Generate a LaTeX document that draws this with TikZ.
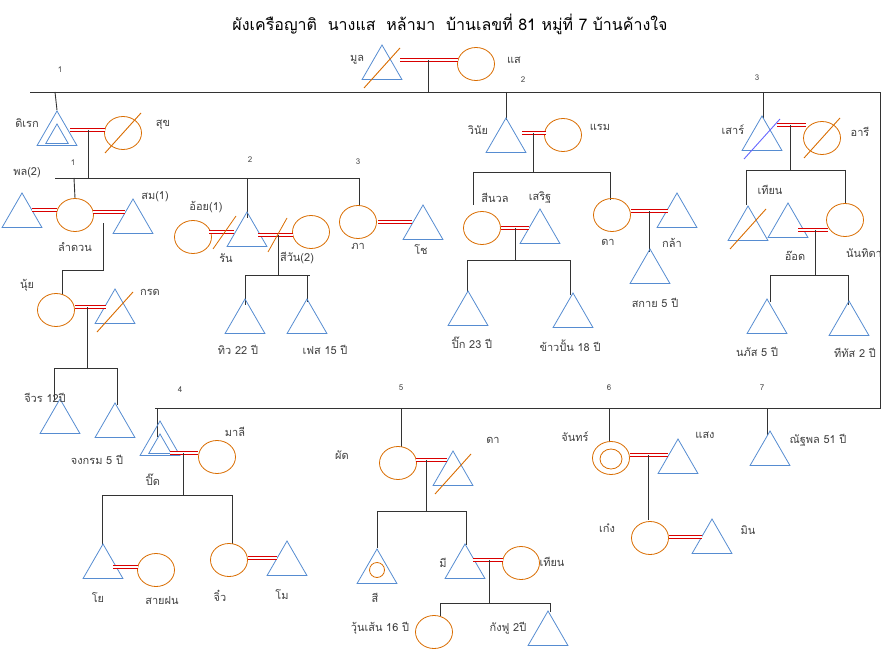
\documentclass[tikz,border=0pt]{standalone}
\usepackage{fontspec}
\setmainfont{Loma}[Script=Thai]
\usetikzlibrary{shapes.geometric,calc}
\tikzset{
 tri/.style={regular polygon,regular polygon sides=3,draw=cyan!50!blue!70,minimum size=46pt,inner sep=0pt,line width=0.8pt},
 itri/.style={regular polygon,regular polygon sides=3,draw=cyan!50!blue!70,minimum size=26pt,inner sep=0pt,line width=0.8pt},
 cir/.style={ellipse,draw=orange!85!black,minimum width=37pt,minimum height=33pt,inner sep=0pt,line width=0.8pt},
 icir/.style={ellipse,draw=orange!85!black,minimum width=22pt,minimum height=20pt,inner sep=0pt,line width=0.8pt},
 scir/.style={circle,draw=orange!85!black,minimum size=15pt,inner sep=0pt,line width=0.8pt},
 lab/.style={font=\fontsize{11pt}{12pt}\selectfont,text=black!75},
 num/.style={font=\fontsize{8pt}{9pt}\selectfont,text=black!70},
 ln/.style={black!80,line width=0.9pt},
 marr/.style={red!85!black,double=white,double distance=1.6pt,line width=1.4pt},
}
\newcommand\Tri[2]{\node[tri] (#1) at (#2) {};}
\newcommand\Cir[2]{\node[cir] (#1) at (#2) {};}
\newcommand\Lab[2]{\node[lab] at (#1) {#2};}
\newcommand\Num[2]{\node[num] at (#1) {#2};}
\newcommand\Sl[2]{\draw[#2,line width=0.9pt] ($(#1.center)+(-18,20)$) -- ($(#1.center)+(18,-20)$);}
\begin{document}
\begin{tikzpicture}[x=1pt,y=-1pt]
\useasboundingbox (0,0) rectangle (896,663);
\node[font=\fontsize{16pt}{18pt}\selectfont] (title) at (450,24) {ผังเครือญาติ\ \ นางแส\ \ หล้ามา\ \ บ้านเลขที่ 81 หมู่ที่ 7 บ้านค้างใจ};
% top couple
\Tri{mul}{382,68}\Sl{mul}{orange!85!black}\Lab{357,60}{มูล}
\Cir{sae}{476,64}\Lab{514,60}{แส}
\draw[marr] (400,60)--(458,60);
\draw[ln] (428,60)--(428,92);
\draw[ln] (30,92)--(880,92)--(880,408)--(155,408);
\Num{60,70}{1}\Num{523,80}{2}\Num{757,78}{3}\Num{180,390}{4}\Num{401,388}{5}\Num{609,388}{6}\Num{762,388}{7}
% ดิเรก
\Tri{direk}{57,134}\node[itri] at (57,137) {};\Lab{27,123}{ดิเรก}
\Cir{suk}{123,133}\Sl{suk}{orange!85!black}\Lab{163,125}{สุข}
\draw[ln] (55,92)--(direk.north);
\draw[marr] (70,130)--(105,130);
\draw[ln] (88,130)--(88,178);
\draw[ln] (55,178)--(360,178);
\Num{73,163}{1}\Lab{27,173}{พล(2)}\Num{250,160}{2}\Num{358,162}{3}
\Cir{lamduan}{75,215}\Lab{75,247}{ลำดวน}
\draw[ln] (74,178)--(lamduan.north);
\Tri{phon}{22,216}\draw[marr] (32,210)--(57,210);
\Tri{som}{133,222}\Lab{155,197}{สม(1)}
\draw[marr] (93,212)--(125,212);
\draw[ln] (103,223)--(103,270)--(62,270)--(62,295);
\Cir{nui}{56,310}\Lab{27,285}{นุ้ย}
\Tri{krot}{115,312}\Sl{krot}{orange!85!black}\Lab{150,292}{กรด}
\draw[marr] (75,307)--(106,307);
\draw[ln] (87,307)--(87,368);
\draw[ln] (54,368)--(117,368);
\draw[ln] (54,368)--(54,400);\draw[ln] (117,368)--(117,405);
\Tri{jiwon}{60,422}\Tri{jongkrom}{115,426}
\Lab{45,398}{จีวร 12ปี}\Lab{97,460}{จงกรม 5 ปี}
% รัน
\draw[ln] (247,178)--(247,218);
\Tri{run}{247,235}\Lab{226,258}{รัน}
\Cir{oi}{193,237}\Lab{206,207}{อ้อย(1)}
\draw[marr] (209,232)--(234,232);
\draw[orange!85!black,line width=0.8pt] (213,249)--(236,216);
\Cir{siwan}{311,232}\Lab{297,258}{สีวัน(2)}
\draw[marr] (258,235)--(293,235);
\draw[orange!85!black,line width=0.8pt] (268,252)--(287,218);
\draw[ln] (278,235)--(278,275);
\draw[ln] (245,275)--(310,275);
\draw[ln] (245,275)--(245,305);\draw[ln] (307,275)--(307,302);
\Tri{thiw}{245,322}\Tri{fet}{307,322}
\Lab{238,350}{ทิว 22 ปี}\Lab{325,350}{เฟส 15 ปี}
% ภา
\draw[ln] (359,178)--(359,206);
\Cir{pha}{358,222}\Lab{358,246}{ภา}
\Tri{cho}{423,228}\Lab{421,250}{โช}
\draw[marr] (378,222)--(412,222);
% วินัย
\draw[ln] (506,92)--(506,120);
\Tri{winai}{506,141}\Lab{478,130}{วินัย}
\Cir{raem}{563,135}\Lab{600,127}{แรม}
\draw[marr] (522,133)--(546,133);
\draw[ln] (533,133)--(533,172);
\draw[ln] (473,172)--(610,172);
\draw[ln] (473,172)--(473,205);
\Cir{sinuan}{482,228}\Lab{495,198}{สีนวล}\Lab{540,198}{เสริฐ}
\Tri{soet}{540,232}
\draw[marr] (501,228)--(529,228);
\draw[ln] (515,228)--(515,260);
\draw[ln] (467,260)--(570,260);
\draw[ln] (467,260)--(467,292);\draw[ln] (570,260)--(570,295);
\Tri{pik}{468,314}\Tri{khaopan}{573,316}
\Lab{472,343}{ปิ๊ก 23 ปี}\Lab{570,346}{ข้าวปั้น 18 ปี}
\draw[ln] (610,172)--(610,200);
\Cir{da}{612,215}\Lab{608,242}{ดา}
\Tri{kla}{677,216}\Lab{672,243}{กล้า}
\draw[marr] (631,211)--(668,211);
\draw[ln] (649,211)--(649,252);
\Tri{sky}{650,272}\Lab{655,303}{สกาย 5 ปี}
% เสาร์
\draw[ln] (763,92)--(763,118);
\Tri{sao}{762,139}\Sl{sao}{blue!60}\Lab{733,130}{เสาร์}
\Cir{ari}{822,138}\Sl{ari}{orange!85!black}\Lab{860,132}{อารี}
\draw[marr] (777,125)--(806,125);
\draw[ln] (790,125)--(790,170);
\draw[ln] (746,170)--(845,170);
\draw[ln] (746,170)--(746,205);\draw[ln] (845,170)--(845,204);
\Tri{thian}{748,229}\Sl{thian}{orange!85!black}\Lab{770,190}{เทียน}
\Cir{nanthida}{845,220}\Lab{864,253}{นันทิดา}
\Tri{ot}{788,226}\Lab{795,256}{อ๊อด}
\draw[marr] (798,230)--(828,230);
\draw[ln] (815,230)--(815,275);
\draw[ln] (770,275)--(848,275);
\draw[ln] (770,275)--(770,302);\draw[ln] (848,275)--(848,305);
\Tri{naphat}{767,322}\Tri{thithat}{849,324}
\Lab{757,352}{นภัส 5 ปี}\Lab{855,353}{ทีทัส 2 ปี}
% ณัฐพล
\draw[ln] (767,408)--(767,435);
\Tri{nattha}{770,454}\Lab{818,440}{ณัฐพล 51 ปี}
% ปิ๊ด
\draw[ln] (157,408)--(157,437);
\Tri{pit}{160,444}\node[itri] at (160,447) {};\Lab{153,480}{ปิ๊ด}
\Cir{mali}{217,457}\Lab{235,432}{มาลี}
\draw[marr] (170,453)--(198,453);
\draw[ln] (183,453)--(183,495);
\draw[ln] (102,495)--(232,495);
\draw[ln] (102,495)--(102,545);\draw[ln] (232,495)--(232,544);
\Tri{yo}{103,567}\Lab{98,598}{โย}
\Cir{saifon}{156,570}\Lab{162,601}{สายฝน}
\draw[marr] (113,567)--(138,567);
\Cir{jiw}{229,560}\Lab{220,596}{จิ๋ว}
\Tri{mo}{287,564}\Lab{282,595}{โม}
\draw[marr] (248,558)--(277,558);
% ผัด
\draw[ln] (401,408)--(401,447);
\Cir{phat}{398,463}\Lab{342,455}{ผัด}
\Tri{da2}{453,474}\Sl{da2}{orange!85!black}\Lab{493,440}{ดา}
\draw[marr] (416,460)--(447,460);
\draw[ln] (426,460)--(426,511);
\draw[ln] (377,511)--(466,511);
\draw[ln] (377,511)--(377,548);\draw[ln] (466,511)--(466,545);
\Tri{si}{377,572}\node[scir] at (377,570) {};\Lab{375,598}{สี}
\Tri{mi}{465,567}\Lab{443,563}{มี}
\Cir{thian2}{521,563}\Lab{552,562}{เทียน}
\draw[marr] (473,560)--(503,560);
\draw[ln] (489,560)--(489,603);
\draw[ln] (440,603)--(550,603);
\draw[ln] (440,603)--(440,616);\draw[ln] (550,603)--(550,612);
\Cir{wunsen}{434,632}\Lab{380,628}{วุ้นเส้น 16 ปี}
\Tri{kungfu}{548,634}\Lab{508,628}{กังฟู 2ปี}
% จันทร์
\draw[ln] (609,408)--(609,442);
\Cir{jan}{611,458}\node[icir] at (611,459) {};\Lab{575,437}{จันทร์}
\Tri{saeng}{678,462}\Lab{705,435}{แสง}
\draw[marr] (630,455)--(668,455);
\draw[ln] (648,455)--(648,520);
\Cir{keng}{650,538}\Lab{607,528}{เก๋ง}
\Tri{min}{712,542}\Lab{748,530}{มิน}
\draw[marr] (669,537)--(702,537);
\end{tikzpicture}
\end{document}
